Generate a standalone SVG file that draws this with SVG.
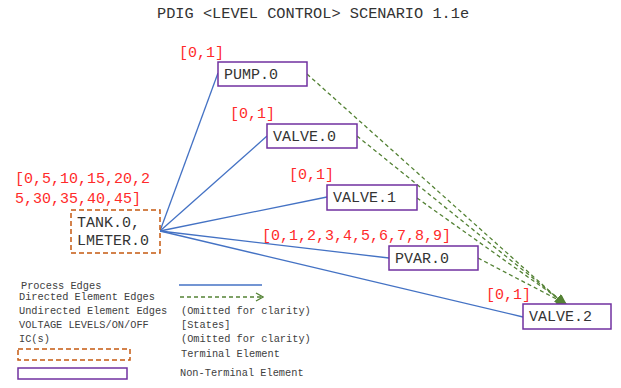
<svg xmlns="http://www.w3.org/2000/svg" width="621" height="388" viewBox="0 0 621 388">
<defs>
<style>
text{font-family:"Liberation Mono","Courier New",monospace;fill:#333}
.title{font-size:15.3px}
.lbl{font-size:15px}
.st{font-size:15px;fill:#ff2a2a}
.lg{font-size:10.3px;fill:#404040}
.nt{fill:#fff;stroke:#7030a0;stroke-width:1.5}
.tm{fill:#fff;stroke:#c55a11;stroke-width:1.5;stroke-dasharray:5 3}
.pe{stroke:#4472c4;stroke-width:1.3;fill:none}
.de{stroke:#548235;stroke-width:1.3;stroke-dasharray:4 3;fill:none}
</style>
<marker id="ah" markerWidth="10" markerHeight="10" refX="9" refY="5" orient="auto" markerUnits="userSpaceOnUse">
<path d="M0,0 L10,5 L0,10 Z" fill="#548235"/>
</marker>
<marker id="chev" markerWidth="10" markerHeight="10" refX="9" refY="5" orient="auto" markerUnits="userSpaceOnUse">
<path d="M2,1 L9,5 L2,9" fill="none" stroke="#548235" stroke-width="1.3"/>
</marker>
</defs>
<rect width="621" height="388" fill="#fff"/>
<text class="title" x="157" y="18">PDIG &lt;LEVEL CONTROL&gt; SCENARIO 1.1e</text>

<g id="connectors">
<line class="pe" x1="160" y1="231" x2="218" y2="73"/>
<line class="pe" x1="160" y1="231" x2="267" y2="136"/>
<line class="pe" x1="160" y1="231" x2="327" y2="197"/>
<line class="pe" x1="160" y1="231" x2="389" y2="258"/>
<line class="pe" x1="160" y1="231" x2="523" y2="317"/>
<line class="de" x1="307" y1="74" x2="564" y2="304" marker-end="url(#ah)"/>
<line class="de" x1="357" y1="136" x2="565" y2="304" marker-end="url(#ah)"/>
<line class="de" x1="417" y1="198" x2="566" y2="304" marker-end="url(#ah)"/>
<line class="de" x1="478" y1="258" x2="566" y2="304" marker-end="url(#ah)"/>
</g>

<g id="tank">
<rect class="tm" x="71" y="210" width="89" height="43"/>
<text class="lbl" x="77" y="227">TANK.0,</text>
<text class="lbl" x="77" y="245">LMETER.0</text>
<text class="st" x="15" y="183">[0,5,10,15,20,2</text>
<text class="st" x="15" y="203">5,30,35,40,45]</text>
</g>
<g id="pump0">
<rect class="nt" x="218" y="62" width="89" height="24"/>
<text class="lbl" x="224" y="79">PUMP.0</text>
<text class="st" x="179" y="57">[0,1]</text>
</g>
<g id="valve0">
<rect class="nt" x="267" y="124" width="90" height="24"/>
<text class="lbl" x="273" y="141">VALVE.0</text>
<text class="st" x="230" y="118">[0,1]</text>
</g>
<g id="valve1">
<rect class="nt" x="327" y="185" width="90" height="25"/>
<text class="lbl" x="333" y="202">VALVE.1</text>
<text class="st" x="289" y="179">[0,1]</text>
</g>
<g id="pvar0">
<rect class="nt" x="389" y="246" width="89" height="24"/>
<text class="lbl" x="395" y="263">PVAR.0</text>
<text class="st" x="262" y="240">[0,1,2,3,4,5,6,7,8,9]</text>
</g>
<g id="valve2">
<rect class="nt" x="523" y="304" width="88" height="25"/>
<text class="lbl" x="529" y="321">VALVE.2</text>
<text class="st" x="486" y="299">[0,1]</text>
</g>

<g id="legend">
<text class="lg" x="21" y="289">Process Edges</text>
<text class="lg" x="19" y="300">Directed Element Edges</text>
<text class="lg" x="19" y="314">Undirected Element Edges</text>
<text class="lg" x="19" y="328">VOLTAGE LEVELS/ON/OFF</text>
<text class="lg" x="19" y="342">IC(s)</text>
<line class="pe" x1="179" y1="285" x2="262" y2="285"/>
<line class="de" x1="180" y1="297" x2="263" y2="297" marker-end="url(#chev)"/>
<text class="lg" x="181" y="314">(Omitted for clarity)</text>
<text class="lg" x="181" y="328">[States]</text>
<text class="lg" x="181" y="342">(Omitted for clarity)</text>
<rect class="tm" x="18" y="349" width="112" height="11"/>
<text class="lg" x="181" y="357">Terminal Element</text>
<rect class="nt" x="18" y="368" width="109" height="11"/>
<text class="lg" x="180" y="376">Non-Terminal Element</text>
</g>
</svg>
